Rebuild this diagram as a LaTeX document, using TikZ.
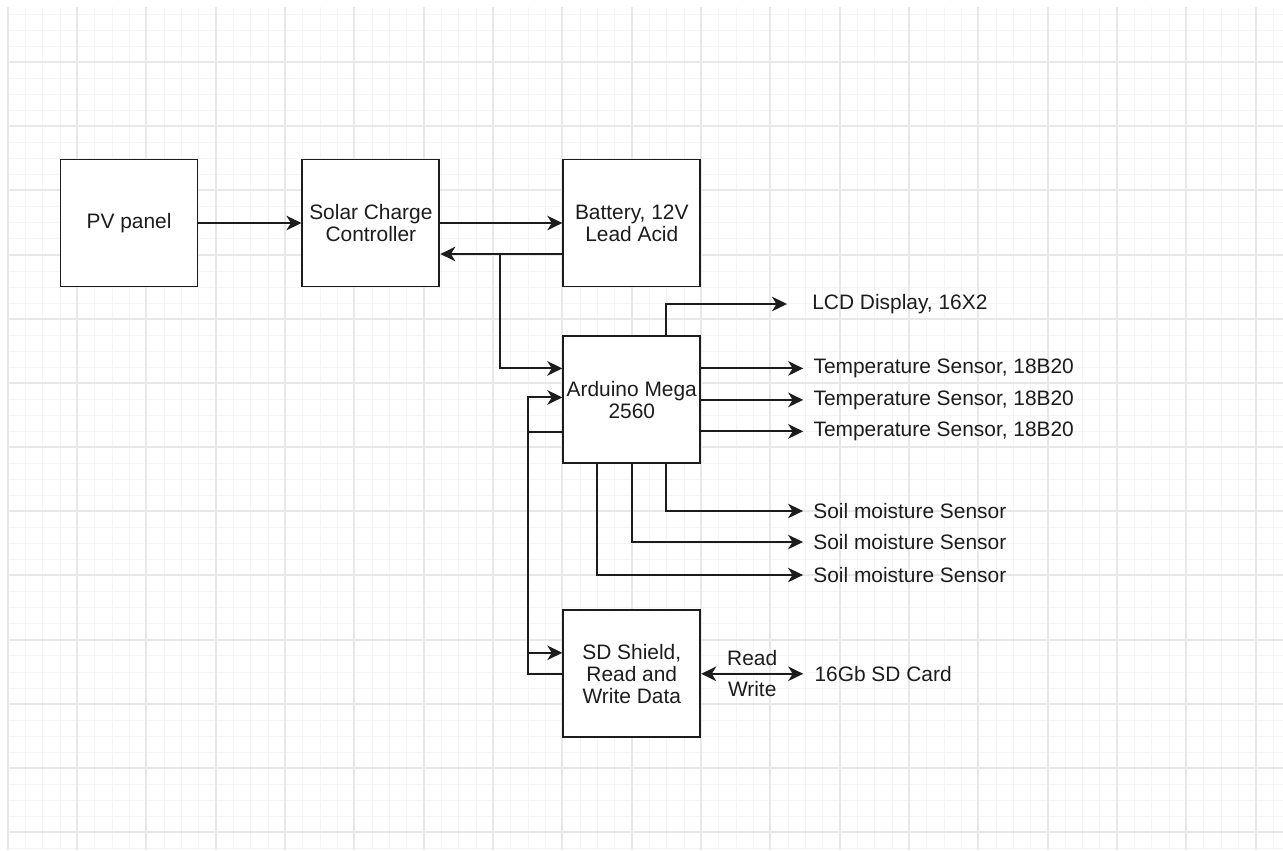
\documentclass[tikz,border=0pt]{standalone}
\usepackage{fontspec}
\setmainfont{Liberation Sans}
\usetikzlibrary{arrows.meta,positioning,calc}
\definecolor{gridminor}{HTML}{F4F4F4}
\definecolor{gridmajor}{HTML}{E8E8E8}
\definecolor{wire}{HTML}{1C1C1C}

\begin{document}
\begin{tikzpicture}[x=0.02cm, y=-0.02cm,
  block/.style={draw=wire, line width=1.1pt, minimum width=2.74cm, minimum height=2.54cm, inner sep=0pt, align=center, fill=white, text=wire, font=\fontsize{11.9}{12.6}\selectfont},
  sensor/.style={anchor=west, inner xsep=0.2cm, inner ysep=0pt, text=wire, font=\fontsize{11.9}{12.6}\selectfont},
  rwlabel/.style={inner sep=0pt, text=wire, font=\fontsize{11.9}{12.6}\selectfont},
  arr/.style={-{Stealth[length=0.3cm, width=0.29cm, inset=0.09cm]}, line width=1.1pt, wire},
  darr/.style={{Stealth[length=0.3cm, width=0.29cm, inset=0.09cm]}-{Stealth[length=0.3cm, width=0.29cm, inset=0.09cm]}, line width=1.1pt, wire}
]
  \useasboundingbox (0,0) rectangle (1283,850);
  \fill[white] (0,0) rectangle (1283,850);
  \foreach \i in {0,...,73} \draw[gridminor, line width=0.02cm] ({round(7.7+17.33*\i)+0.5},7) -- ({round(7.7+17.33*\i)+0.5},850);
  \foreach \j in {0,...,52} \draw[gridminor, line width=0.02cm] (7,{round(13.9+16.04*\j)+0.5}) -- (1283,{round(13.9+16.04*\j)+0.5});
  \foreach \i in {0,...,18} \draw[gridmajor, line width=0.04cm] ({round(7.7+69.33*\i)},7) -- ({round(7.7+69.33*\i)},850);
  \foreach \j in {0,...,12} \draw[gridmajor, line width=0.04cm] (7,{round(62+64.17*\j)}) -- (1283,{round(62+64.17*\j)});

  \node[block] (pv) at (129,223) {PV panel};
  \node[block, right=2.06cm of pv] (scc) {Solar Charge\\Controller};
  \node[block, right=2.44cm of scc] (bat) {Battery, 12V\\Lead Acid};
  \node[block, below=0.96cm of bat] (ard) {Arduino Mega\\2560};
  \node[block, below=2.9cm of ard] (sd) {SD Shield,\\Read and\\Write Data};

  \node[sensor, inner xsep=0.5cm] (lcd) at (787,304) {LCD Display, 16X2};
  \node[sensor] (temp1) at ([xshift=2.04cm, yshift=0.63cm]ard.east) {Temperature Sensor, 18B20};
  \node[sensor] (temp2) at ([xshift=2.04cm]ard.east) {Temperature Sensor, 18B20};
  \node[sensor] (temp3) at ([xshift=2.04cm, yshift=-0.63cm]ard.east) {Temperature Sensor, 18B20};
  \node[sensor] (soil1) at (803,511) {Soil moisture Sensor};
  \node[sensor] (soil2) at (803,542) {Soil moisture Sensor};
  \node[sensor] (soil3) at (803,575) {Soil moisture Sensor};
  \node[sensor, inner xsep=0.22cm] (card) at ([xshift=2.04cm]sd.east) {16Gb SD Card};

  \coordinate (tap) at (500,254);

  \draw[arr] (pv) -- (scc);
  \draw[arr] (scc) -- (bat);
  \draw[arr] ([yshift=-0.62cm]bat.west) -- ([yshift=-0.62cm]scc.east);
  \draw[arr] (tap) |- ([yshift=0.63cm]ard.west);
  \draw[arr] ([xshift=0.68cm]ard.north) |- (lcd.west);
  \draw[arr] (temp1.west -| ard.east) -- (temp1.west);
  \draw[arr] (temp2.west -| ard.east) -- (temp2.west);
  \draw[arr] (temp3.west -| ard.east) -- (temp3.west);
  \draw[arr] ([xshift=0.68cm]ard.south) |- (soil1.west);
  \draw[arr] (ard.south) |- (soil2.west);
  \draw[arr] ([xshift=-0.7cm]ard.south) |- (soil3.west);
  \draw[arr] ([yshift=-0.64cm]ard.west) -- ++(-34,0) |- ([yshift=0.42cm]sd.west);
  \draw[arr] (sd.west) -- ++(-34,0) |- ([yshift=0.05cm]ard.west);
  \draw[darr] (sd.east) -- (card.west)
    node[rwlabel, midway, above=0.15cm] {Read}
    node[rwlabel, midway, below=0.14cm] {Write};
\end{tikzpicture}
\end{document}
